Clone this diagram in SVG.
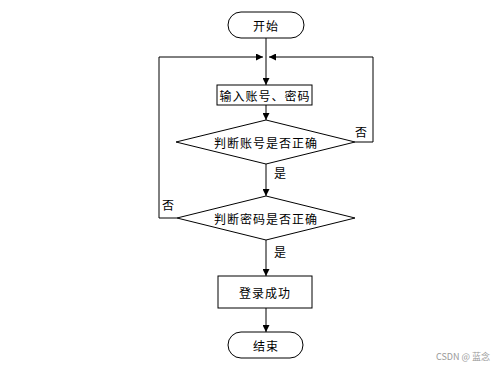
<svg xmlns="http://www.w3.org/2000/svg" width="500" height="368" viewBox="0 0 500 368">
<style>
.s{fill:#fff;stroke:#000;stroke-width:1}
.t{font-family:"Noto Sans CJK SC","Liberation Sans",sans-serif;font-size:12px;fill:#000;text-anchor:middle;dominant-baseline:central;letter-spacing:1px}
.l{font-family:"Noto Sans CJK SC","Liberation Sans",sans-serif;font-size:12px;fill:#000;dominant-baseline:central}
.c{fill:none;stroke:#000;stroke-width:1}
</style>
<defs>
<marker id="a" viewBox="0 0 10 10" refX="10" refY="5" markerWidth="7" markerHeight="7" orient="auto" markerUnits="userSpaceOnUse">
<path d="M0,0 L10,5 L0,10 Z" fill="#000"/>
</marker>
</defs>
<rect width="500" height="368" fill="#fff"/>
<g id="connectors">
<path class="c" d="M266,38 V85" marker-end="url(#a)"/>
<path class="c" d="M266,105 V120" marker-end="url(#a)"/>
<path class="c" d="M266,164 V196" marker-end="url(#a)"/>
<path class="c" d="M266,240 V276" marker-end="url(#a)"/>
<path class="c" d="M266,308 V332" marker-end="url(#a)"/>
<path class="c" d="M355,142 H373 V57 H269" marker-end="url(#a)"/>
<path class="c" d="M177,218 H159 V57 H263" marker-end="url(#a)"/>
<text class="l" x="355" y="131">否</text>
<text class="l" x="274" y="172">是</text>
<text class="l" x="162" y="204">否</text>
<text class="l" x="274" y="251">是</text>
</g>
<g id="start">
<rect class="s" x="228" y="12" width="76" height="26" rx="13"/>
<text class="t" x="266" y="25">开始</text>
</g>
<g id="input">
<rect class="s" x="217" y="85" width="95" height="20"/>
<text class="t" x="265" y="95">输入账号、密码</text>
</g>
<g id="check-account">
<polygon class="s" points="266,120 355,142 266,164 176,142"/>
<text class="t" x="266" y="142">判断账号是否正确</text>
</g>
<g id="check-password">
<polygon class="s" points="266,196 355,218 266,240 177,218"/>
<text class="t" x="266" y="218">判断密码是否正确</text>
</g>
<g id="success">
<rect class="s" x="218" y="276" width="94" height="32"/>
<text class="t" x="265" y="292">登录成功</text>
</g>
<g id="end">
<rect class="s" x="228" y="332" width="75" height="26" rx="13"/>
<text class="t" x="266" y="345">结束</text>
</g>
<text x="490" y="356" font-family="Noto Sans CJK SC,Liberation Sans,sans-serif" font-size="9" fill="#999" text-anchor="end" dominant-baseline="central">CSDN @ 蓝念</text>
</svg>
